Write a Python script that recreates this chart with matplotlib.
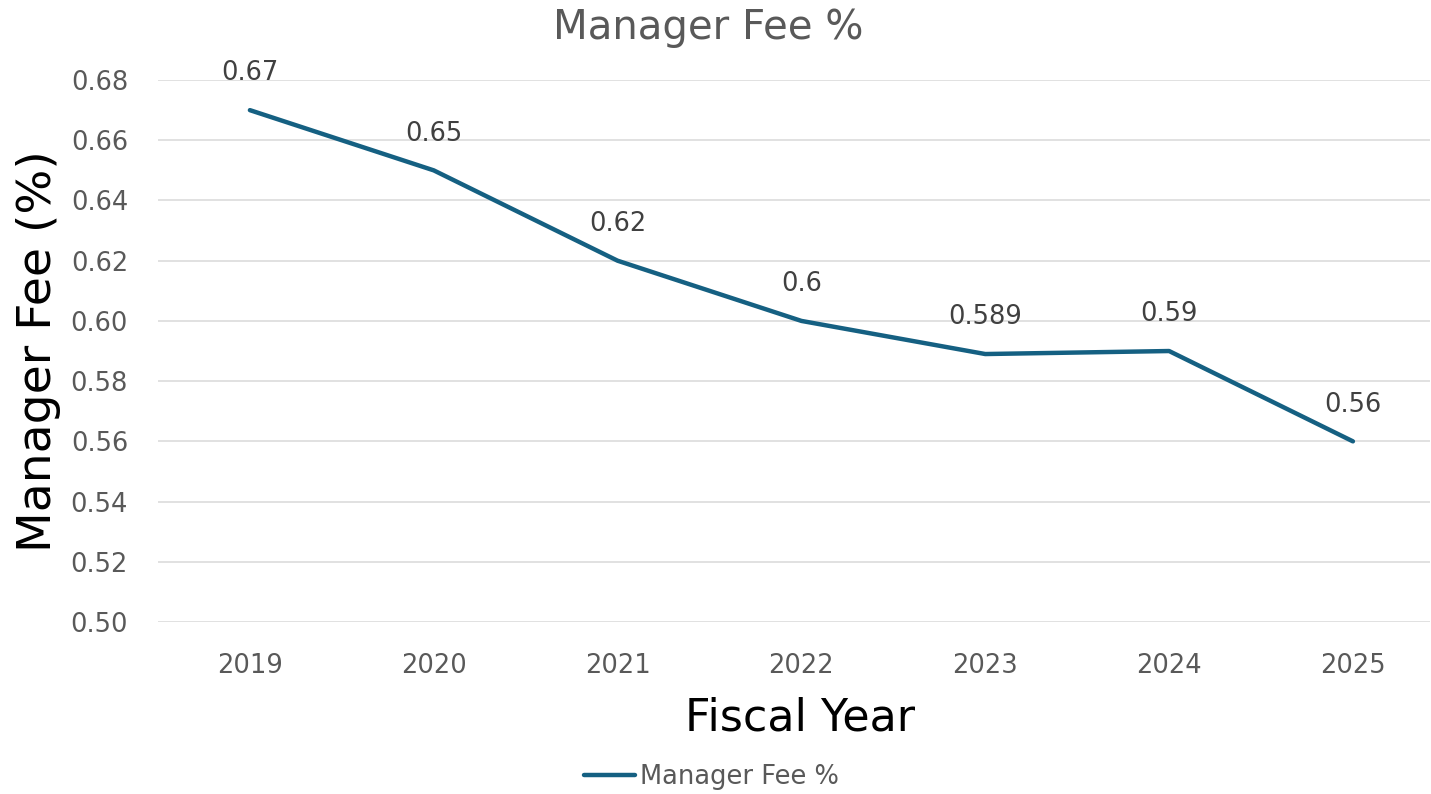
import matplotlib.pyplot as plt

years = ["2019", "2020", "2021", "2022", "2023", "2024", "2025"]
fee_pct = [0.67, 0.65, 0.62, 0.60, 0.589, 0.59, 0.56]
fee_labels = ["0.67", "0.65", "0.62", "0.6", "0.589", "0.59", "0.56"]
y_ticks = [0.50, 0.52, 0.54, 0.56, 0.58, 0.60, 0.62, 0.64, 0.66, 0.68]

LINE_COLOR = "#156082"
GRID_COLOR = "#d9d9d9"

plt.rcParams["font.family"] = "DejaVu Sans"

fig = plt.figure(figsize=(14.31, 7.94), dpi=100)
ax = fig.add_axes([0.1104, 0.2166, 0.889, 0.6826])

x = list(range(len(years)))
ax.plot(x, fee_pct, color=LINE_COLOR, linewidth=3.2,
        solid_capstyle="round", label="Manager Fee %")

# data labels above each point
for xi, yi, lab in zip(x, fee_pct, fee_labels):
    ax.annotate(lab, (xi, yi), xytext=(0, 26.5), textcoords="offset points",
                ha="center", va="center", fontsize=18.5, color="#404040")

ax.set_xlim(-0.5, 6.42)
ax.set_ylim(0.50, 0.68)
ax.set_yticks(y_ticks)
ax.set_yticklabels([f"{v:.2f}" for v in y_ticks])
ax.set_xticks(x)
ax.set_xticklabels(years)
ax.tick_params(axis="both", length=0, labelsize=18.5, labelcolor="#595959")
ax.tick_params(axis="x", pad=22)
ax.tick_params(axis="y", pad=21.5)

ax.grid(axis="y", color=GRID_COLOR, linewidth=1.1)
ax.set_axisbelow(True)
for s in ax.spines.values():
    s.set_visible(False)

ax.set_xlabel("Fiscal Year", fontsize=32, color="black")
ax.xaxis.set_label_coords(0.505, -0.178)
ax.xaxis.label.set_va("center")
ax.set_ylabel("Manager Fee (%)", fontsize=34, color="black", labelpad=7)

fig.text(0.495, 1 - 28 / 794, "Manager Fee %", ha="center", va="center",
         fontsize=29, color="#595959")

fig.legend(loc="center", bbox_to_anchor=(0.497, 1 - 777 / 794), frameon=False,
           fontsize=18.5, labelcolor="#595959", handlelength=2.0,
           handletextpad=0.2)

fig.savefig("out.png", dpi=100)
